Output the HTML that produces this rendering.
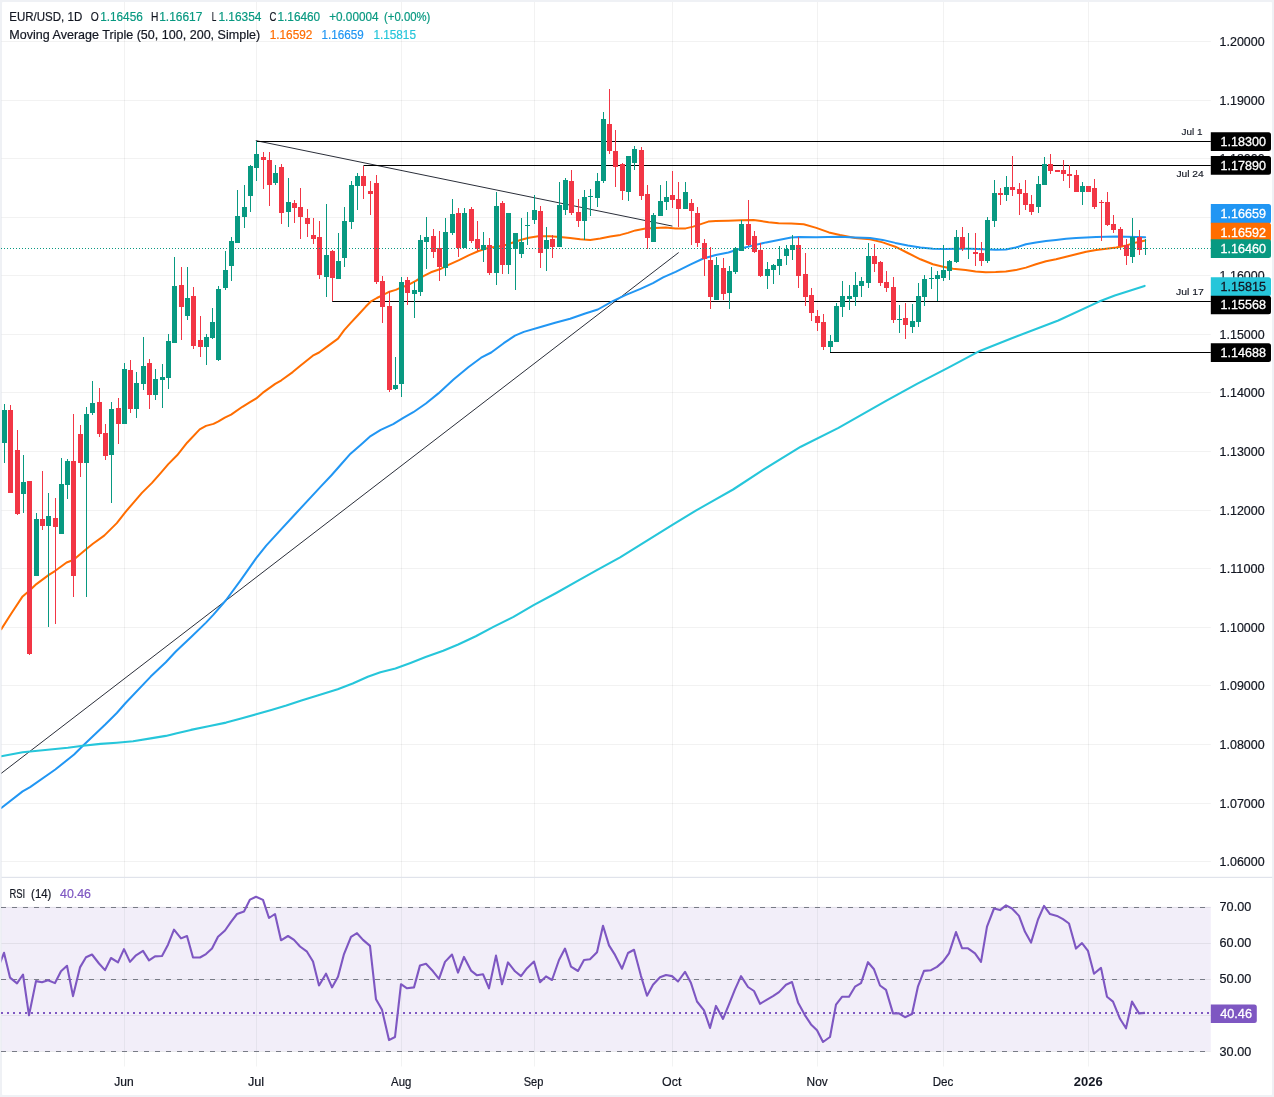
<!DOCTYPE html>
<html lang="en"><head><meta charset="utf-8"><title>EUR/USD 1D chart</title>
<style>html,body{margin:0;padding:0;background:#fff}body{width:1274px;height:1097px;overflow:hidden}svg{display:block}text{font-family:"Liberation Sans",Arial,sans-serif}</style>
</head><body>
<svg width="1274" height="1097" viewBox="0 0 1274 1097">
<rect x="0" y="0" width="1274" height="1097" fill="#fff"/>
<path id="frame" fill="#eff1f5" fill-rule="evenodd" d="M0 0H1274 V1097 H0z M3 2H1271 a1 1 0 0 1 1 1V1094 a1 1 0 0 1 -1 1H3 a1 1 0 0 1 -1 -1V3 a1 1 0 0 1 1 -1z"/>
<defs><clipPath id="plot"><rect x="1.4" y="2" width="1209.4" height="1093"/></clipPath></defs>
<g id="rsi-band"><rect x="1.8" y="906.8" width="1209" height="144.4" fill="#7e57c2" fill-opacity="0.1"/></g>
<g id="grid" stroke="#1e2a24" stroke-opacity="0.058" stroke-width="1" fill="none">
<line x1="1.5" y1="41.5" x2="1210.8" y2="41.5"/>
<line x1="1.5" y1="100.5" x2="1210.8" y2="100.5"/>
<line x1="1.5" y1="158.5" x2="1210.8" y2="158.5"/>
<line x1="1.5" y1="217.5" x2="1210.8" y2="217.5"/>
<line x1="1.5" y1="275.5" x2="1210.8" y2="275.5"/>
<line x1="1.5" y1="334.5" x2="1210.8" y2="334.5"/>
<line x1="1.5" y1="392.5" x2="1210.8" y2="392.5"/>
<line x1="1.5" y1="451.5" x2="1210.8" y2="451.5"/>
<line x1="1.5" y1="510.5" x2="1210.8" y2="510.5"/>
<line x1="1.5" y1="568.5" x2="1210.8" y2="568.5"/>
<line x1="1.5" y1="627.5" x2="1210.8" y2="627.5"/>
<line x1="1.5" y1="685.5" x2="1210.8" y2="685.5"/>
<line x1="1.5" y1="744.5" x2="1210.8" y2="744.5"/>
<line x1="1.5" y1="803.5" x2="1210.8" y2="803.5"/>
<line x1="1.5" y1="861.5" x2="1210.8" y2="861.5"/>
<line x1="124.5" y1="2" x2="124.5" y2="877"/>
<line x1="256.5" y1="2" x2="256.5" y2="877"/>
<line x1="401.5" y1="2" x2="401.5" y2="877"/>
<line x1="534.5" y1="2" x2="534.5" y2="877"/>
<line x1="672.5" y1="2" x2="672.5" y2="877"/>
<line x1="817.5" y1="2" x2="817.5" y2="877"/>
<line x1="943.5" y1="2" x2="943.5" y2="877"/>
<line x1="1088.5" y1="2" x2="1088.5" y2="877"/>
</g>
<g id="grid-rsi" stroke="#2a2e39" stroke-opacity="0.08" stroke-width="1" fill="none">
<line x1="124.5" y1="878" x2="124.5" y2="1066.5" stroke-opacity="0.06"/>
<line x1="256.5" y1="878" x2="256.5" y2="1066.5" stroke-opacity="0.06"/>
<line x1="401.5" y1="878" x2="401.5" y2="1066.5" stroke-opacity="0.06"/>
<line x1="534.5" y1="878" x2="534.5" y2="1066.5" stroke-opacity="0.06"/>
<line x1="672.5" y1="878" x2="672.5" y2="1066.5" stroke-opacity="0.06"/>
<line x1="817.5" y1="878" x2="817.5" y2="1066.5" stroke-opacity="0.06"/>
<line x1="943.5" y1="878" x2="943.5" y2="1066.5" stroke-opacity="0.06"/>
<line x1="1088.5" y1="878" x2="1088.5" y2="1066.5" stroke-opacity="0.06"/>
<line x1="1.5" y1="907.5" x2="1210.8" y2="907.5"/>
<line x1="1.5" y1="943.5" x2="1210.8" y2="943.5"/>
<line x1="1.5" y1="979.5" x2="1210.8" y2="979.5"/>
<line x1="1.5" y1="1015.5" x2="1210.8" y2="1015.5"/>
<line x1="1.5" y1="1051.5" x2="1210.8" y2="1051.5"/>
</g>
<g id="price-axis" fill="#131722" font-size="12.4" stroke="#131722" stroke-width="0.2">
<text x="1219.6" y="45.9" textLength="45" lengthAdjust="spacingAndGlyphs">1.20000</text>
<text x="1219.6" y="104.9" textLength="45" lengthAdjust="spacingAndGlyphs">1.19000</text>
<text x="1219.6" y="162.9" textLength="45" lengthAdjust="spacingAndGlyphs">1.18000</text>
<text x="1219.6" y="221.9" textLength="45" lengthAdjust="spacingAndGlyphs">1.17000</text>
<text x="1219.6" y="279.9" textLength="45" lengthAdjust="spacingAndGlyphs">1.16000</text>
<text x="1219.6" y="338.9" textLength="45" lengthAdjust="spacingAndGlyphs">1.15000</text>
<text x="1219.6" y="396.9" textLength="45" lengthAdjust="spacingAndGlyphs">1.14000</text>
<text x="1219.6" y="455.9" textLength="45" lengthAdjust="spacingAndGlyphs">1.13000</text>
<text x="1219.6" y="514.9" textLength="45" lengthAdjust="spacingAndGlyphs">1.12000</text>
<text x="1219.6" y="572.9" textLength="45" lengthAdjust="spacingAndGlyphs">1.11000</text>
<text x="1219.6" y="631.9" textLength="45" lengthAdjust="spacingAndGlyphs">1.10000</text>
<text x="1219.6" y="689.9" textLength="45" lengthAdjust="spacingAndGlyphs">1.09000</text>
<text x="1219.6" y="748.9" textLength="45" lengthAdjust="spacingAndGlyphs">1.08000</text>
<text x="1219.6" y="807.9" textLength="45" lengthAdjust="spacingAndGlyphs">1.07000</text>
<text x="1219.6" y="865.9" textLength="45" lengthAdjust="spacingAndGlyphs">1.06000</text>
</g>
<g id="drawings" fill="none" clip-path="url(#plot)">
<line x1="0" y1="774.3" x2="678.7" y2="252.5" stroke="#2a2e39" stroke-width="1"/>
<line x1="255.8" y1="140.6" x2="672.4" y2="226.1" stroke="#2a2e39" stroke-width="1"/>
</g>
<g id="levels" stroke="#000" stroke-width="1.1" fill="none">
<line x1="256.5" y1="141.5" x2="1210.8" y2="141.5"/>
<line x1="363.5" y1="165.5" x2="1210.8" y2="165.5"/>
<line x1="332.2" y1="301.5" x2="1210.8" y2="301.5"/>
<line x1="830" y1="352.5" x2="1210.8" y2="352.5"/>
</g>
<g id="moving-averages" fill="none" stroke-linejoin="round" stroke-linecap="round" clip-path="url(#plot)">
<polyline points="1.3,629.1 11.3,613.5 22.6,596.4 29.6,590.4 36.4,584.1 48.5,575.1 55.3,570.8 66.6,562.5 73.3,560 86.7,548.7 92.9,543.7 104.2,535.6 116.8,523.1 125.6,511.8 134.4,501.7 141.9,492.9 152,482.9 160.8,472.8 168.3,464.1 177.1,455.3 187.1,442.7 199.7,429.4 206,425.9 213.5,423.9 218.5,421.4 224.8,417.6 231.1,414.6 242.4,406.8 250,402.2 256.3,398.4 262.6,392.9 275.2,383.9 281.4,380.3 292.7,372.1 300.3,365.8 312.8,355.7 319.1,352.5 326.7,346.9 338,338.6 344.2,330.1 350.5,323.1 358.1,315 365.6,306.8 370.6,301.7 376.9,298 383.2,294.9 389.5,291.7 395.7,289.9 402,287.2 408.3,284.9 415.8,280.9 423.4,276.1 430.9,272.3 439.7,269.3 448.5,264.8 458.5,260.3 468.6,255.3 478.6,251 488.7,247.7 498.7,246.5 506.2,244.7 513.8,242.2 521.3,239.7 528.9,237.7 538.2,236.3 550,236.2 560.1,236.9 570.1,237.9 580.2,239.2 590.2,239.9 600.3,238.4 610.3,236.4 620.4,234.9 627.9,232.9 635.4,230.4 645.5,228.6 655.5,227.9 665.6,227.6 675.6,228.4 685.7,228.4 693.2,226.6 700.8,224.1 708.3,221.6 715.8,221.1 728.4,220.8 740.9,220.3 753.5,220.1 761,221.1 768.6,222.3 778.6,223.3 791.2,223.6 803.7,224.3 816.3,227.9 828.9,232.4 840,234.9 855.1,237.9 870.1,239.2 882.7,242.4 895.3,246.7 907.8,253 920.4,259.3 932.9,264.3 943,266.8 953,268.8 965.6,270.1 975.6,271.6 985.7,272.3 995.7,272.1 1005.8,271.6 1015.8,270.1 1025.9,267.6 1035.9,264.3 1046,261.3 1056,259.3 1066.1,256.8 1076.1,254.2 1086.2,251.7 1096.2,250 1106.2,248.7 1116.3,247.5 1126.3,245.4 1136.4,242.4 1145.2,240.4" stroke="#ff6d00" stroke-width="2"/>
<polyline points="1.3,808 22.6,791.4 30.1,787.1 55.3,769.5 74.1,754.5 82.9,745.7 105.5,724.3 116.8,713 125.6,703 150.7,676.6 165.8,662.3 175.8,651.5 190.9,637.2 206,622.6 213.5,614.6 226.1,600 241.1,579.6 256.2,558.2 266.2,545.7 278.8,531.9 293.9,515.5 320,487.4 331.7,475 340.5,465 350.5,453.7 360.6,444.9 370.6,436.1 380.7,429.8 393.2,424.1 403.3,417.8 413.3,412.2 425.9,403.5 438.4,393.4 453.5,379.6 468.6,367 481.1,357.7 491.2,352.5 503.7,343.2 515,335.6 523.8,331.9 541.4,326.8 555.1,322.8 570.1,318.8 585.2,313.5 597.8,309.5 612.8,301.2 625.4,295.2 640.5,288.9 653,283.1 663.1,277.3 675.6,271.8 690.7,264.3 703.3,258.5 715.8,255 728.4,252.5 740.9,248.5 753.5,245.4 766.1,242.4 778.6,239.9 791.2,237.4 798.7,236.9 816.3,237.2 840,236.7 855.1,237.4 870.1,237.9 882.7,239.9 895.3,242.9 907.8,245.4 920.4,247.5 932.9,248.7 945.5,249 958.1,248.7 970.6,248.7 983.2,249.2 995.7,249.7 1005.8,249.5 1015.8,247.5 1025.9,244.2 1035.9,242.4 1046,240.9 1056,239.9 1066.1,238.7 1076.1,237.9 1086.2,237.4 1096.2,236.9 1106.2,236.7 1116.3,236.4 1126.3,236.7 1136.4,236.9 1145.2,237.2" stroke="#2196f3" stroke-width="2"/>
<polyline points="1.3,756.2 22.6,752.2 45.2,750 67.8,747.7 82.9,745.7 100.5,743.9 116.8,742.7 133.1,741.2 150.7,738.4 165.8,735.9 175.8,733.6 190.9,729.9 208.5,726.3 226.1,722.6 241.1,718.6 256.2,714.3 271.3,710 286.3,705.5 301.4,700.5 317.6,695.5 337.7,689.2 352.7,683.5 367.8,676.7 380.4,672.2 395.4,668.4 410.5,662.9 425.6,657.1 443.2,650.8 458.2,644.5 475.8,636.2 493.4,626.9 513.5,616.9 533.6,605.1 556.2,593 576.3,581.7 596.4,570.4 620.1,557.3 640.2,544.8 672.8,524.7 695.4,510.8 713,500.8 733.1,489.5 760,471.8 800.8,446.7 838.5,427.9 885.6,401.2 917,383.9 948.4,367.6 979.8,350.9 1011.2,338.4 1058.3,320.5 1099.1,301.6 1114.8,295.4 1144.6,285.9" stroke="#26c6da" stroke-width="2.1"/>
</g>
<g id="candles">
<path d="M4.5 404V463M23.5 455V513M36.5 513V576M48.5 493V627M61.5 458V534M67.5 459V499M86.5 407V597M92.5 381V415M111.5 402V503M124.5 363V424M136.5 372V418M143.5 337V390M155.5 369V400M162.5 364V408M168.5 334V389M174.5 257V343M187.5 267V320M206.5 334V365M212.5 308V339M218.5 286V361M225.5 251V290M231.5 237V281M237.5 190V243M244.5 185V228M250.5 165V212M256.5 141V181M275.5 165V185M288.5 178V227M326.5 204V297M338.5 233V279M344.5 207V267M351.5 181V229M357.5 173V210M395.5 357V390M401.5 277V397M414.5 282V318M420.5 235V296M426.5 217V269M445.5 218V276M452.5 199V235M464.5 208V248M483.5 232V262M496.5 192V285M508.5 213V274M515.5 233V290M521.5 218V258M527.5 212V245M534.5 195V224M546.5 227V271M559.5 182V247M565.5 178V215M584.5 190V240M590.5 189V216M597.5 173V207M603.5 112V183M628.5 156V201M634.5 146V170M653.5 213V242M660.5 185V216M666.5 181V210M685.5 182V209M716.5 257V300M729.5 266V309M735.5 247V274M741.5 220V251M767.5 262V289M773.5 264V284M779.5 246V275M786.5 245V265M792.5 235V260M830.5 335V352M836.5 303V342M842.5 281V317M849.5 285V310M855.5 272V306M861.5 277V297M868.5 243V288M899.5 305V333M912.5 304V333M918.5 283V327M924.5 275V306M931.5 267V289M937.5 271V301M943.5 245V281M949.5 260V280M956.5 230V263M968.5 233V259M987.5 217V263M994.5 180V227M1006.5 176V201M1038.5 176V213M1044.5 157V185M1082.5 182V205M1132.5 218V263M1145.5 239V255" stroke="#089981" stroke-width="1" fill="none"/>
<path d="M2 410h5v33h-5zM21 482h5v12h-5zM34 519h5v57h-5zM46 516h5v10h-5zM59 484h5v50h-5zM65 461h5v24h-5zM84 414h5v49h-5zM90 403h5v10h-5zM109 409h5v46h-5zM122 369h5v55h-5zM134 383h5v26h-5zM141 366h5v18h-5zM153 379h5v16h-5zM160 377h5v3h-5zM166 341h5v37h-5zM172 286h5v57h-5zM185 298h5v18h-5zM204 337h5v10h-5zM210 322h5v16h-5zM216 289h5v71h-5zM223 270h5v18h-5zM229 241h5v25h-5zM235 216h5v27h-5zM242 207h5v10h-5zM248 166h5v30h-5zM254 154h5v14h-5zM273 173h5v10h-5zM286 202h5v10h-5zM324 255h5v22h-5zM336 261h5v18h-5zM342 221h5v37h-5zM349 185h5v37h-5zM355 176h5v10h-5zM393 385h5v4h-5zM399 282h5v102h-5zM412 290h5v4h-5zM418 240h5v52h-5zM424 237h5v5h-5zM443 232h5v36h-5zM450 214h5v19h-5zM462 213h5v35h-5zM481 245h5v5h-5zM494 206h5v67h-5zM506 213h5v52h-5zM513 233h5v16h-5zM519 242h5v12h-5zM525 225h5v1h-5zM532 210h5v10h-5zM544 240h5v9h-5zM557 205h5v42h-5zM563 180h5v30h-5zM582 197h5v24h-5zM588 196h5v1h-5zM595 181h5v17h-5zM601 119h5v62h-5zM626 156h5v36h-5zM632 149h5v14h-5zM651 215h5v27h-5zM658 201h5v15h-5zM664 197h5v5h-5zM683 192h5v17h-5zM714 265h5v35h-5zM727 271h5v22h-5zM733 248h5v24h-5zM739 224h5v27h-5zM765 269h5v7h-5zM771 265h5v5h-5zM777 259h5v7h-5zM784 249h5v7h-5zM790 245h5v5h-5zM828 341h5v6h-5zM834 306h5v36h-5zM840 296h5v11h-5zM847 296h5v3h-5zM853 285h5v12h-5zM859 281h5v5h-5zM866 256h5v27h-5zM897 319h5v1h-5zM910 321h5v6h-5zM916 296h5v26h-5zM922 279h5v18h-5zM929 278h5v1h-5zM935 275h5v4h-5zM941 270h5v8h-5zM947 261h5v10h-5zM954 237h5v25h-5zM966 248h5v1h-5zM985 220h5v41h-5zM992 193h5v28h-5zM1004 187h5v8h-5zM1036 184h5v23h-5zM1042 164h5v21h-5zM1080 186h5v6h-5zM1130 237h5v20h-5zM1143 248h5v1h-5z" fill="#089981"/>
<path d="M10.5 405V493M17.5 430V515M29.5 481V655M42.5 471V530M55.5 498V624M73.5 414V597M80.5 425V477M99.5 388V437M105.5 424V460M118.5 398V444M130.5 360V413M149.5 359V409M181.5 267V340M193.5 287V349M200.5 316V357M263.5 152V189M269.5 152V206M281.5 164V224M294.5 200V223M300.5 188V239M307.5 209V237M313.5 218V244M319.5 221V279M332.5 250V301M363.5 166V199M370.5 181V215M376.5 175V284M382.5 276V323M389.5 291V392M407.5 277V305M433.5 229V258M439.5 231V281M458.5 208V257M471.5 207V243M477.5 221V251M489.5 238V275M502.5 201V274M540.5 206V268M552.5 235V258M571.5 170V215M578.5 199V227M609.5 89V154M615.5 130V187M622.5 163V200M641.5 147V200M647.5 185V249M672.5 171V208M678.5 182V227M691.5 199V245M697.5 207V247M704.5 239V276M710.5 247V309M723.5 258V300M748.5 200V246M754.5 231V253M760.5 243V277M798.5 237V288M805.5 253V306M811.5 288V321M817.5 310V331M823.5 314V350M874.5 244V272M880.5 261V286M886.5 271V292M893.5 277V323M905.5 303V339M962.5 227V251M975.5 233V266M981.5 242V266M1000.5 188V205M1012.5 156V196M1019.5 183V215M1025.5 180V210M1031.5 195V215M1050.5 154V174M1057.5 170V172M1063.5 160V181M1069.5 165V188M1076.5 170V192M1088.5 186V192M1094.5 179V209M1101.5 200V241M1107.5 192V226M1113.5 215V233M1120.5 227V250M1126.5 239V265M1139.5 230V255" stroke="#f23645" stroke-width="1" fill="none"/>
<path d="M8 410h5v83h-5zM15 450h5v64h-5zM27 481h5v173h-5zM40 519h5v7h-5zM53 518h5v9h-5zM71 461h5v115h-5zM78 434h5v29h-5zM97 402h5v32h-5zM103 433h5v23h-5zM116 408h5v16h-5zM128 370h5v39h-5zM147 363h5v32h-5zM179 285h5v22h-5zM191 296h5v50h-5zM198 340h5v7h-5zM261 157h5v3h-5zM267 160h5v25h-5zM279 167h5v46h-5zM292 203h5v5h-5zM298 207h5v10h-5zM305 218h5v6h-5zM311 235h5v4h-5zM317 237h5v38h-5zM330 251h5v27h-5zM361 176h5v10h-5zM368 191h5v3h-5zM374 183h5v99h-5zM380 281h5v26h-5zM387 306h5v84h-5zM405 280h5v13h-5zM431 236h5v16h-5zM437 248h5v19h-5zM456 213h5v35h-5zM469 209h5v32h-5zM475 239h5v10h-5zM487 245h5v28h-5zM500 203h5v62h-5zM538 211h5v42h-5zM550 239h5v8h-5zM569 181h5v32h-5zM576 212h5v9h-5zM607 124h5v27h-5zM613 151h5v16h-5zM620 164h5v27h-5zM639 150h5v46h-5zM645 194h5v44h-5zM670 195h5v5h-5zM676 199h5v10h-5zM689 203h5v8h-5zM695 213h5v30h-5zM702 243h5v16h-5zM708 260h5v37h-5zM721 268h5v26h-5zM746 224h5v21h-5zM752 236h5v16h-5zM758 250h5v26h-5zM796 245h5v31h-5zM803 274h5v23h-5zM809 295h5v18h-5zM815 316h5v7h-5zM821 322h5v25h-5zM872 256h5v8h-5zM878 262h5v21h-5zM884 282h5v6h-5zM891 287h5v33h-5zM903 318h5v7h-5zM960 237h5v12h-5zM973 252h5v2h-5zM979 253h5v8h-5zM998 193h5v2h-5zM1010 187h5v3h-5zM1017 189h5v5h-5zM1023 193h5v12h-5zM1029 204h5v8h-5zM1048 164h5v7h-5zM1055 170h5v2h-5zM1061 170h5v4h-5zM1067 174h5v2h-5zM1074 175h5v17h-5zM1086 186h5v6h-5zM1092 188h5v19h-5zM1099 202h5v1h-5zM1105 202h5v23h-5zM1111 224h5v6h-5zM1118 229h5v17h-5zM1124 245h5v11h-5zM1137 237h5v13h-5z" fill="#f23645"/>
</g>
<line x1="1" y1="248.5" x2="1210.8" y2="248.5" stroke="#089981" stroke-width="1" stroke-dasharray="1 2"/>
<g id="level-captions" fill="#131722" font-size="9.8" stroke="#131722" stroke-width="0.15">
<text x="1181.6" y="134.9" textLength="21" lengthAdjust="spacingAndGlyphs">Jul 1</text>
<text x="1176.4" y="177" textLength="27.4" lengthAdjust="spacingAndGlyphs">Jul 24</text>
<text x="1176" y="294.9" textLength="27.9" lengthAdjust="spacingAndGlyphs">Jul 17</text>
</g>
<g id="price-labels">
<path d="M1210.8 132.2H1268.5a2.5 2.5 0 0 1 2.5 2.5V148.5a2.5 2.5 0 0 1 -2.5 2.5H1210.8z" fill="#000"/>
<text x="1220.6" y="146.1" font-size="12.4" fill="#fff" stroke="#fff" stroke-width="0.3" textLength="45.4" lengthAdjust="spacingAndGlyphs">1.18300</text>
<path d="M1210.8 156.1H1268.5a2.5 2.5 0 0 1 2.5 2.5V172.3a2.5 2.5 0 0 1 -2.5 2.5H1210.8z" fill="#000"/>
<text x="1220.6" y="169.9" font-size="12.4" fill="#fff" stroke="#fff" stroke-width="0.3" textLength="45.4" lengthAdjust="spacingAndGlyphs">1.17890</text>
<path d="M1210.8 204H1268.5a2.5 2.5 0 0 1 2.5 2.5V220.9a2.5 2.5 0 0 1 -2.5 2.5H1210.8z" fill="#2196f3"/>
<text x="1220.6" y="218.2" font-size="12.4" fill="#fff" stroke="#fff" stroke-width="0.3" textLength="45.4" lengthAdjust="spacingAndGlyphs">1.16659</text>
<path d="M1210.8 222.8H1268.5a2.5 2.5 0 0 1 2.5 2.5V239a2.5 2.5 0 0 1 -2.5 2.5H1210.8z" fill="#ff6d00"/>
<text x="1220.6" y="236.7" font-size="12.4" fill="#fff" stroke="#fff" stroke-width="0.3" textLength="45.4" lengthAdjust="spacingAndGlyphs">1.16592</text>
<path d="M1210.8 239.3H1268.5a2.5 2.5 0 0 1 2.5 2.5V255.4a2.5 2.5 0 0 1 -2.5 2.5H1210.8z" fill="#089981"/>
<text x="1220.6" y="253.1" font-size="12.4" fill="#fff" stroke="#fff" stroke-width="0.3" textLength="45.4" lengthAdjust="spacingAndGlyphs">1.16460</text>
<path d="M1210.8 277.3H1268.5a2.5 2.5 0 0 1 2.5 2.5V293.7a2.5 2.5 0 0 1 -2.5 2.5H1210.8z" fill="#26c6da"/>
<text x="1220.6" y="291.2" font-size="12.4" fill="#131722" stroke="#131722" stroke-width="0.3" textLength="45.4" lengthAdjust="spacingAndGlyphs">1.15815</text>
<path d="M1210.8 295.8H1268.5a2.5 2.5 0 0 1 2.5 2.5V311.7a2.5 2.5 0 0 1 -2.5 2.5H1210.8z" fill="#000"/>
<text x="1220.6" y="308.9" font-size="12.4" fill="#fff" stroke="#fff" stroke-width="0.3" textLength="45.4" lengthAdjust="spacingAndGlyphs">1.15568</text>
<path d="M1210.8 343.2H1268.5a2.5 2.5 0 0 1 2.5 2.5V359.5a2.5 2.5 0 0 1 -2.5 2.5H1210.8z" fill="#000"/>
<text x="1220.6" y="357.1" font-size="12.4" fill="#fff" stroke="#fff" stroke-width="0.3" textLength="45.4" lengthAdjust="spacingAndGlyphs">1.14688</text>
</g>
<g id="legend">
<text y="20.9" font-size="12.7" stroke-width="0.2"><tspan x="9.3" fill="#131722" stroke="#131722" textLength="72.9" lengthAdjust="spacingAndGlyphs">EUR/USD, 1D</tspan> <tspan x="90.8" fill="#131722" stroke="#131722" textLength="8" lengthAdjust="spacingAndGlyphs">O</tspan><tspan x="100.2" fill="#089981" stroke="#089981" textLength="42.6" lengthAdjust="spacingAndGlyphs">1.16456</tspan> <tspan x="151.1" fill="#131722" stroke="#131722" textLength="7.4" lengthAdjust="spacingAndGlyphs">H</tspan><tspan x="159.2" fill="#089981" stroke="#089981" textLength="43.2" lengthAdjust="spacingAndGlyphs">1.16617</tspan> <tspan x="211.7" fill="#131722" stroke="#131722" textLength="4.6" lengthAdjust="spacingAndGlyphs">L</tspan><tspan x="218.4" fill="#089981" stroke="#089981" textLength="43" lengthAdjust="spacingAndGlyphs">1.16354</tspan> <tspan x="269.4" fill="#131722" stroke="#131722" textLength="6.9" lengthAdjust="spacingAndGlyphs">C</tspan><tspan x="277.5" fill="#089981" stroke="#089981" textLength="42.7" lengthAdjust="spacingAndGlyphs">1.16460</tspan> <tspan x="329.2" fill="#089981" stroke="#089981" textLength="49.4" lengthAdjust="spacingAndGlyphs">+0.00004</tspan> <tspan x="384.1" fill="#089981" stroke="#089981" textLength="46.3" lengthAdjust="spacingAndGlyphs">(+0.00%)</tspan></text>
<text y="38.6" font-size="12.7" stroke-width="0.2"><tspan x="9.3" fill="#131722" stroke="#131722" textLength="250.8" lengthAdjust="spacingAndGlyphs">Moving Average Triple (50, 100, 200, Simple)</tspan> <tspan x="269.7" fill="#ff6d00" stroke="#ff6d00" textLength="42.7" lengthAdjust="spacingAndGlyphs">1.16592</tspan> <tspan x="321.6" fill="#2196f3" stroke="#2196f3" textLength="42.1" lengthAdjust="spacingAndGlyphs">1.16659</tspan> <tspan x="373.4" fill="#26c6da" stroke="#26c6da" textLength="42.6" lengthAdjust="spacingAndGlyphs">1.15815</tspan></text>
</g>
<rect x="1.5" y="876.8" width="1270.7" height="1.2" fill="#e0e3eb"/>
<g id="rsi" fill="none">
<line x1="1" y1="907.5" x2="1210.8" y2="907.5" stroke="#787b86" stroke-width="1" stroke-dasharray="5 6"/>
<line x1="1" y1="979.5" x2="1210.8" y2="979.5" stroke="#787b86" stroke-width="1" stroke-dasharray="5 6"/>
<line x1="1" y1="1051.5" x2="1210.8" y2="1051.5" stroke="#787b86" stroke-width="1" stroke-dasharray="5 6"/>
<polyline points="-1.5,966.6 4,952.8 10,977.6 17,983.4 23,974.5 29,1015.3 36,981.1 42,982.3 48,980.3 55,983.1 61,971.3 67,965.8 73,996.1 80,967.4 86,957.2 92,954.5 99,963.5 105,970.1 111,958 118,962.4 124,949.1 130,961.9 136,955.3 143,950.9 149,960.4 155,956.4 162,956 168,944.7 174,929.7 181,938.4 187,936 193,957.5 200,957.5 206,954.1 212,948.6 218,936.8 225,930.5 231,921.9 237,914 244,911.4 250,899.6 256,896.8 263,899.9 269,918 275,914 281,940.3 288,936 294,939.9 300,946.5 307,951.7 313,961.5 319,985.5 326,973.7 332,987.4 338,976.8 344,954.1 351,936.8 357,933.2 363,939.9 370,945.9 376,999.3 382,1009.8 389,1040.1 395,1037 401,984.2 407,988.3 414,987.4 420,965.4 426,963.8 433,971.3 439,978.9 445,961.9 452,954.5 458,972.6 464,956.9 471,970.6 477,975.3 483,974.2 489,988.3 496,955.6 502,984.2 508,962.4 515,971.3 521,976.1 527,968.2 534,961.5 540,982.3 546,976.4 552,980 559,960 565,948.6 571,966.6 578,971 584,960 590,959.3 597,952.2 603,925.8 609,945.4 615,954.9 622,968.7 628,953 634,949.8 641,976.1 647,995.7 653,984.7 660,977.3 666,975 672,976.1 678,981.5 685,971.8 691,983.1 697,1001.5 704,1010.3 710,1027.9 716,1005.9 723,1018.9 729,1004.3 735,989.4 741,976.1 748,987 754,991 760,1003.8 767,999.6 773,996.1 779,992.1 786,984.7 792,982 798,1002.4 805,1015.3 811,1024.4 817,1030.2 823,1042 830,1037 836,1004.6 842,996.8 849,996.8 855,986.7 861,983.1 868,962.2 874,969.3 880,985.5 886,989.9 893,1013.4 899,1013.4 905,1017.2 912,1014 918,986.3 924,970.9 931,970.2 937,966.9 943,961.6 949,953.3 956,932.1 962,948.1 968,948.3 975,953.3 981,961.9 987,926.6 994,908.5 1000,910.1 1006,905.4 1012,908.5 1019,915.9 1025,931.8 1031,942.6 1038,919.5 1044,905.9 1050,914 1057,915.9 1063,919.1 1069,923.5 1076,948.6 1082,943.1 1088,950.9 1094,973.7 1101,967.9 1107,996.8 1113,1001.6 1120,1018.8 1126,1028.3 1132,1001.6 1139,1013.4 1145,1012.9" stroke="#7e57c2" stroke-width="2.1" stroke-linejoin="round" clip-path="url(#plot)"/>
<line x1="1" y1="1013" x2="1210.8" y2="1013" stroke="#7e57c2" stroke-width="2" stroke-dasharray="2 4"/>
</g>
<g id="rsi-legend">
<text y="897.7" font-size="12.7" stroke-width="0.2"><tspan x="9.5" fill="#131722" stroke="#131722" textLength="15.7" lengthAdjust="spacingAndGlyphs">RSI</tspan> <tspan x="31.1" fill="#131722" stroke="#131722" textLength="20.3" lengthAdjust="spacingAndGlyphs">(14)</tspan> <tspan x="60" fill="#7e57c2" stroke="#7e57c2" textLength="31" lengthAdjust="spacingAndGlyphs">40.46</tspan></text>
</g>
<g id="rsi-axis" fill="#131722" font-size="12.4" stroke="#131722" stroke-width="0.2">
<text x="1219.6" y="911.1" textLength="31.6" lengthAdjust="spacingAndGlyphs">70.00</text>
<text x="1219.6" y="947" textLength="31.6" lengthAdjust="spacingAndGlyphs">60.00</text>
<text x="1219.6" y="983" textLength="31.6" lengthAdjust="spacingAndGlyphs">50.00</text>
<text x="1219.6" y="1055.8" textLength="31.6" lengthAdjust="spacingAndGlyphs">30.00</text>
</g>
<path d="M1210.8 1004.4H1254.3a2.5 2.5 0 0 1 2.5 2.5V1020.4a2.5 2.5 0 0 1 -2.5 2.5H1210.8z" fill="#7e57c2"/>
<text x="1220.2" y="1018.2" font-size="12.4" fill="#fff" stroke="#fff" stroke-width="0.3" textLength="31.8" lengthAdjust="spacingAndGlyphs">40.46</text>
<g id="time-axis" fill="#131722" font-size="12.4" stroke="#131722" stroke-width="0.2">
<text x="114.2" y="1086.4" textLength="19.4" lengthAdjust="spacingAndGlyphs">Jun</text>
<text x="247.9" y="1086.4" textLength="16.2" lengthAdjust="spacingAndGlyphs">Jul</text>
<text x="391.1" y="1086.4" textLength="20.3" lengthAdjust="spacingAndGlyphs">Aug</text>
<text x="523.7" y="1086.4" textLength="19.6" lengthAdjust="spacingAndGlyphs">Sep</text>
<text x="662.1" y="1086.4" textLength="19.3" lengthAdjust="spacingAndGlyphs">Oct</text>
<text x="806.6" y="1086.4" textLength="21.1" lengthAdjust="spacingAndGlyphs">Nov</text>
<text x="932.7" y="1086.4" textLength="20.6" lengthAdjust="spacingAndGlyphs">Dec</text>
<text x="1073.8" y="1086.4" font-weight="bold" stroke="none" textLength="28.9" lengthAdjust="spacingAndGlyphs">2026</text>
</g>
</svg>
</body></html>
